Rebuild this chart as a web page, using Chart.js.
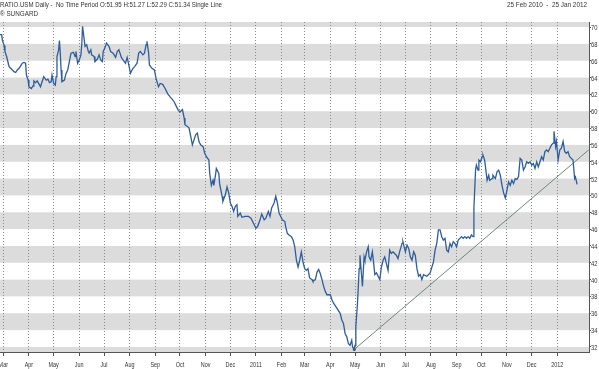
<!DOCTYPE html>
<html><head><meta charset="utf-8">
<script src="https://cdn.jsdelivr.net/npm/chart.js@4.4.1/dist/chart.umd.min.js"></script>
<style>html,body{margin:0;padding:0;background:#fff;overflow:hidden}#wrap{width:599px;height:369px}</style>
</head><body><div id="wrap"><canvas id="c" width="599" height="369"></canvas></div>
<script>
// ---- text ----
const titleLeft = 'RATIO.USM Daily -  No Time Period O:51.95 H:51.27 L:52.29 C:51.34 Single Line';
const titleSub = '\u00AE SUNGARD';
const titleRight = '25 Feb 2010  -  25 Jan 2012';

// ---- axis ticks ----
const seriesStart = '2010-02-25';
const monthTickDates = ['2010-03-01','2010-04-01','2010-05-01','2010-06-01','2010-07-01','2010-08-01','2010-09-01','2010-10-01','2010-11-01','2010-12-01','2011-01-01','2011-02-01','2011-03-01','2011-04-01','2011-05-01','2011-06-01','2011-07-01','2011-08-01','2011-09-01','2011-10-01','2011-11-01','2011-12-01','2012-01-01'];
const monthTickLabels = ['Mar','Apr','May','Jun','Jul','Aug','Sep','Oct','Nov','Dec','2011','Feb','Mar','Apr','May','Jun','Jul','Aug','Sep','Oct','Nov','Dec','2012'];
const yTickValues = [32,34,36,38,40,42,44,46,48,50,52,54,56,58,60,62,64,66,68,70];

// ---- series: calendar days since 25 Feb 2010, and ratio value ----
const dayIndex = [0,2,3,5,6,8,10,11,13,15,17,19,21,23,25,27,29,31,32,34,35,38,40,41,43,45,48,49,51,53,56,58,60,62,63,65,67,68,69,71,72,73,74,75,78,80,82,84,86,89,91,92,94,96,98,99,100,102,103,105,107,108,110,111,114,115,118,120,122,124,125,127,129,132,134,137,140,142,144,147,149,152,154,156,158,161,163,166,168,170,173,175,177,178,180,181,
184,187,189,192,194,197,200,203,206,208,211,213,216,218,221,223,224,227,229,231,233,235,237,239,241,243,246,248,250,253,254,256,258,259,261,262,265,266,269,270,273,275,277,279,281,283,285,287,288,291,293,297,301,304,307,310,312,315,317,320,322,325,327,329,332,334,336,338,340,342,345,346,
348,350,353,355,357,359,361,363,365,367,369,371,373,375,378,379,382,384,386,388,390,392,394,396,400,402,404,408,412,414,416,418,420,422,424,426,427,429,430,431,433,434,435,436,438,439,441,442,444,446,447,449,451,452,454,456,458,460,462,464,466,468,470,472,474,476,478,480,482,484,487,488,491,493,495,497,499,501,503,505,507,509,511,513,517,521,
525,527,529,531,533,535,537,539,541,543,545,547,549,551,553,555,557,559,561,563,565,567,569,571,573,574,576,577,579,580,582,584,585,587,589,590,592,593,596,597,600,602,604,606,608,610,612,614,616,618,620,622,624,626,628,630,632,634,636,638,640,642,644,646,648,650,652,654,656,658,660,662,664,666,668,670,671,673,674,676,678,680,682,684,686,688,690,692,694,696,697,699];
const ratioValues = [69.1,69.1,68.4,67.8,67.1,66.5,65.7,65.3,65.1,64.9,64.7,64.6,64.9,65.1,65.4,65.7,65.8,65.7,64.3,63.7,62.9,62.7,63.0,63.6,63.4,63.6,63.1,62.9,63.5,64.1,63.7,63.8,63.4,63.5,64.3,63.3,63.1,64.1,66.5,67.3,68.4,66.9,64.9,63.5,63.7,64.5,64.9,65.9,66.9,67.0,66.5,67.1,65.7,66.1,66.7,67.9,70.1,68.5,67.7,67.9,67.1,66.9,67.3,66.7,66.5,65.9,66.2,66.7,66.1,65.9,67.1,67.5,68.1,67.7,67.1,66.9,66.4,67.1,67.3,66.4,66.1,65.7,66.4,65.5,64.5,65.1,65.3,65.7,66.9,67.1,66.7,66.9,67.9,68.3,66.9,65.5,
65.1,64.9,63.9,62.9,63.3,63.2,62.7,62.1,61.7,61.5,61.1,60.7,60.1,59.9,60.2,59.2,58.4,58.2,58.0,57.0,56.0,56.6,57.2,57.4,56.4,56.0,55.8,55.0,54.6,54.2,52.6,51.2,51.8,51.2,52.4,53.2,52.6,51.4,49.9,49.3,50.1,51.0,50.3,49.1,48.7,48.1,48.7,48.9,47.5,47.9,47.4,47.5,47.5,47.3,46.7,46.1,46.3,47.1,47.8,47.1,47.3,48.1,47.5,48.5,49.1,49.9,49.1,47.9,47.5,47.1,46.9,46.3,
45.5,45.3,45.1,44.7,43.9,42.3,41.5,42.3,43.3,42.1,41.3,41.1,41.3,40.2,40.0,39.8,40.0,40.9,41.2,40.7,40.0,39.2,38.6,38.2,38.2,37.6,37.2,36.6,36.0,35.2,34.8,33.6,33.2,32.4,32.2,32.8,32.0,31.7,32.2,34.4,37.2,39.2,41.3,42.9,40.4,39.2,42.7,42.3,43.3,43.9,42.7,42.3,43.3,42.5,40.6,40.8,40.4,40.0,41.5,42.3,42.7,41.9,41.1,43.5,43.1,43.3,43.1,42.9,42.5,43.3,44.3,44.5,43.3,44.1,43.7,42.7,42.3,43.3,42.9,41.3,40.4,40.6,40.0,40.6,40.4,40.8,
42.1,43.5,44.3,45.9,45.9,45.1,44.7,44.9,43.5,43.3,44.3,43.9,44.5,44.3,43.9,44.7,44.9,45.1,44.9,45.1,44.9,45.1,44.9,45.3,45.1,48.5,53.0,53.6,53.0,54.2,54.0,54.6,54.8,54.2,52.6,51.8,52.4,51.8,52.0,52.4,52.0,52.8,53.0,52.4,51.2,50.3,49.7,50.6,51.6,51.2,51.8,51.4,52.0,51.9,52.2,54.4,54.2,53.0,53.4,54.0,53.8,54.0,53.6,53.8,53.2,54.0,53.4,54.0,54.6,54.2,55.2,55.4,55.2,55.6,56.0,56.2,57.6,55.8,56.4,54.2,55.4,55.6,56.4,55.2,55.0,55.2,54.6,54.4,54.2,52.0,52.2,51.3];

// ---- trend line (from the May 2011 low to the right edge) ----
const trendDays = [429, 713];
const trendValues = [31.7, 55.4];

// ---- helpers ----
function toOffset(s){ const [y,m,d]=s.split('-').map(Number); const [y0,m0,d0]=seriesStart.split('-').map(Number);
  return Math.round((Date.UTC(y,m-1,d)-Date.UTC(y0,m0-1,d0))/86400000); }
const tickOffsets = monthTickDates.map(toOffset);

function drawScaled(ctx, text, x, y, align, sx){
  ctx.save(); ctx.translate(x,y); ctx.scale(sx,1); ctx.textAlign=align; ctx.fillText(text,0,0); ctx.restore();
}
function fitText(ctx, text, x, y, width, align){
  const w = ctx.measureText(text).width; drawScaled(ctx, text, x, y, align, width/w);
}

const bandsPlugin = {
  id:'bands',
  beforeDraw(chart){
    const {ctx, chartArea:a, scales:{y}} = chart;
    ctx.save();
    ctx.fillStyle='#fff'; ctx.fillRect(0,0,chart.width,chart.height);
    ctx.beginPath(); ctx.rect(a.left,a.top,a.right-a.left,a.bottom-a.top); ctx.clip();
    ctx.fillStyle='#dcdcdc';
    for(let v=30; v<72; v+=4){
      const y1=y.getPixelForValue(v+2), y2=y.getPixelForValue(v);
      ctx.fillRect(a.left, y1, a.right-a.left, y2-y1);
    }
    ctx.restore();
  }
};
const labelsPlugin = {
  id:'labels',
  afterDraw(chart){
    const {ctx, scales:{x,y}} = chart;
    ctx.save();
    ctx.fillStyle='#333';
    ctx.textBaseline='alphabetic';
    ctx.font='8px "Liberation Sans", Arial, sans-serif';
    tickOffsets.forEach((v,i)=>drawScaled(ctx, monthTickLabels[i], x.getPixelForValue(v), 367, 'center', 0.68));
    yTickValues.forEach(v=>drawScaled(ctx, String(v), 591, y.getPixelForValue(v)+3, 'left', 0.72));
    ctx.font='7px "Liberation Sans", Arial, sans-serif';
    fitText(ctx, titleLeft, 0, 7, 222, 'left');
    fitText(ctx, titleSub, 0, 16, 38, 'left');
    fitText(ctx, titleRight, 587, 7, 80, 'right');
    ctx.restore();
  }
};

new Chart(document.getElementById('c'), {
  type:'line',
  data:{ datasets:[
    { data: dayIndex.map((d,i)=>({x:d, y:ratioValues[i]})), borderColor:'#2e5d9b', borderWidth:1.3, pointRadius:0, tension:0, order:1 },
    { data: trendDays.map((d,i)=>({x:d, y:trendValues[i]})), borderColor:'#6b8a78', borderWidth:1, pointRadius:[1.8,0], pointStyle:'rect', pointBackgroundColor:'#2f4f3f', pointBorderWidth:0, order:2 }
  ]},
  options:{
    responsive:false, animation:false, devicePixelRatio:1,
    layout:{ padding:{top:22,left:0,right:0,bottom:0}, autoPadding:false },
    plugins:{ legend:{display:false}, tooltip:{enabled:false}, title:{display:false} },
    scales:{
      x:{ type:'linear', position:'bottom', min:0, max:713.4,
        afterBuildTicks:s=>{ s.ticks = tickOffsets.map(v=>({value:v})); },
        afterFit:s=>{ s.height=17; },
        ticks:{ display:false },
        grid:{ color:'#8a8a8a', lineWidth:1, drawTicks:true, tickLength:4, tickColor:'#555', tickBorderDash:[] },
        border:{ display:true, color:'#555', width:1, dash:[1,2] } },
      y:{ type:'linear', position:'right', min:31.4, max:70.6,
        afterBuildTicks:s=>{ s.ticks = yTickValues.map(v=>({value:v})); },
        afterFit:s=>{ s.width=10; },
        ticks:{ display:false },
        grid:{ drawOnChartArea:false, drawTicks:true, tickLength:2, tickColor:'#555' },
        border:{ display:true, color:'#555', width:1 } }
    }
  },
  plugins:[bandsPlugin, labelsPlugin]
});
</script></body></html>
